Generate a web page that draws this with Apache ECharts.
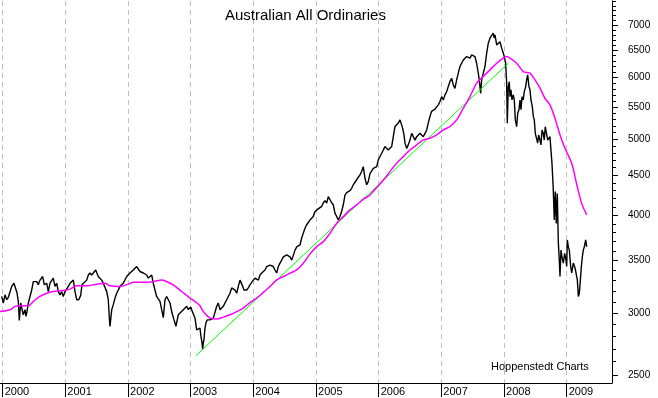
<!DOCTYPE html>
<html><head><meta charset="utf-8">
<script src="https://cdn.jsdelivr.net/npm/echarts@6/dist/echarts.min.js"></script>
<style>html,body{margin:0;padding:0;background:#fff}#c{width:658px;height:398px}</style>
</head><body><div id="c"></div>
<script>
const yearTicks = [2000, 2001, 2002, 2003, 2004, 2005, 2006, 2007, 2008, 2009];
const yTickLabels = [2500, 3000, 3500, 4000, 4500, 5000, 5500, 6000, 6500, 7000];

const priceYears = [
1999.984,2000.010,2000.037,2000.064,2000.089,2000.116,2000.144,2000.180,2000.207,2000.228,2000.249,2000.265,2000.287,2000.303,2000.329,2000.356,2000.372,2000.388,2000.409,2000.436,2000.463,2000.488,2000.515,2000.543,2000.568,2000.595,2000.638,2000.654,2000.664,2000.680,2000.702,2000.728,2000.755,2000.807,2000.835,2000.862,2000.887,2000.914,2000.941,2000.967,2000.994,
2001.021,2001.047,2001.074,2001.101,2001.127,2001.154,2001.181,2001.213,2001.245,2001.265,2001.286,2001.340,2001.366,2001.393,2001.420,2001.446,2001.484,2001.525,2001.580,2001.605,2001.632,2001.660,2001.685,2001.701,2001.712,2001.740,2001.765,2001.792,2001.819,2001.845,2001.872,2001.924,2001.979,
2002.031,2002.084,2002.138,2002.163,2002.191,2002.244,2002.298,2002.323,2002.378,2002.403,2002.430,2002.457,2002.510,2002.563,2002.590,2002.617,2002.643,2002.670,2002.702,2002.734,2002.765,2002.802,2002.829,2002.882,2002.936,2002.962,
2003.000,2003.016,2003.041,2003.069,2003.096,2003.121,2003.148,2003.164,2003.180,2003.191,2003.201,2003.212,2003.228,2003.244,2003.265,2003.281,2003.308,2003.335,2003.361,2003.388,2003.415,2003.440,2003.467,2003.494,2003.520,2003.547,2003.574,2003.600,2003.627,2003.654,2003.680,2003.707,2003.734,2003.760,2003.787,2003.814,2003.830,2003.850,2003.871,2003.894,2003.919,2003.946,2003.973,2003.999,
2004.026,2004.053,2004.079,2004.106,2004.133,2004.159,2004.186,2004.213,2004.238,2004.265,2004.292,2004.318,2004.345,2004.372,2004.398,2004.425,2004.452,2004.478,2004.505,2004.532,2004.558,2004.585,2004.612,2004.638,2004.665,2004.692,2004.717,2004.744,2004.771,2004.797,2004.824,2004.851,2004.877,2004.904,2004.931,2004.956,2004.983,
2005.010,2005.036,2005.063,2005.090,2005.116,2005.143,2005.170,2005.196,2005.223,2005.250,2005.275,2005.302,2005.330,2005.355,2005.382,2005.409,2005.435,2005.462,2005.489,2005.515,2005.542,2005.569,2005.594,2005.621,2005.648,2005.674,2005.701,2005.728,2005.754,2005.781,2005.808,2005.834,2005.861,2005.914,2005.941,2005.968,2005.993,
2006.021,2006.048,2006.073,2006.100,2006.127,2006.153,2006.180,2006.207,2006.233,2006.260,2006.287,2006.313,2006.340,2006.351,2006.367,2006.383,2006.404,2006.420,2006.447,2006.472,2006.499,2006.526,2006.552,2006.579,2006.606,2006.632,2006.659,2006.686,2006.712,2006.739,2006.766,2006.791,2006.818,2006.845,2006.871,2006.898,2006.925,2006.951,2006.978,
2007.005,2007.031,2007.058,2007.085,2007.110,2007.137,2007.164,2007.190,2007.217,2007.244,2007.270,2007.297,2007.324,2007.350,2007.377,2007.404,2007.430,2007.457,2007.484,2007.509,2007.536,2007.563,2007.589,2007.605,2007.627,2007.643,2007.669,2007.696,2007.723,2007.749,2007.776,2007.803,2007.828,2007.844,2007.856,2007.883,2007.908,2007.935,2007.962,2007.988,
2008.004,2008.026,2008.042,2008.052,2008.068,2008.084,2008.095,2008.111,2008.127,2008.148,2008.164,2008.180,2008.202,2008.218,2008.239,2008.255,2008.271,2008.287,2008.307,2008.323,2008.346,2008.361,2008.377,2008.398,2008.414,2008.430,2008.451,2008.467,2008.483,2008.499,2008.521,2008.537,2008.553,2008.574,2008.590,2008.606,2008.626,2008.642,2008.658,2008.681,2008.697,2008.712,2008.733,2008.749,2008.765,2008.776,2008.786,2008.802,2008.818,2008.834,2008.850,2008.866,2008.882,2008.893,2008.909,2008.925,2008.946,2008.968,2008.989,
2009.000,2009.010,2009.026,2009.042,2009.064,2009.080,2009.106,2009.133,2009.149,2009.170,2009.186,2009.202,2009.218,2009.234,2009.250,2009.265,2009.281,2009.303,2009.319
];
const priceValues = [
3150,3090,3165,3120,3140,3150,3245,3275,3260,3185,3105,2935,3090,3075,2985,3030,2970,3015,3090,3150,3210,3290,3275,3290,3260,3305,3340,3345,3260,3245,3275,3195,3275,3325,3245,3275,3195,3165,3195,3150,3195,
3185,3245,3275,3290,3305,3195,3120,3120,3160,3260,3275,3305,3355,3375,3355,3375,3405,3340,3305,3275,3275,3195,3120,2965,2885,3030,3075,3135,3180,3210,3245,3275,3340,
3375,3405,3440,3425,3390,3375,3355,3325,3355,3275,3210,3150,3105,2960,3120,3150,3120,3090,3000,2940,2885,2985,2970,3030,3060,3030,
3055,3030,3045,2955,2855,2845,2870,2800,2750,2695,2750,2775,2870,2915,2940,2955,2940,2955,2955,2940,3060,3090,3030,3015,3060,3090,3120,3150,3180,3230,3245,3210,3180,3245,3305,3290,3245,3210,3195,3210,3230,3260,3275,3305,
3325,3340,3305,3355,3375,3390,3405,3440,3445,3455,3475,3440,3405,3375,3440,3475,3505,3540,3525,3560,3560,3540,3505,3525,3610,3645,3665,3665,3740,3795,3850,3890,3915,3945,3965,3985,4045,
4065,4075,4090,4105,4150,4175,4145,4225,4235,4150,4125,4025,3985,3945,3985,4045,4125,4245,4275,4265,4300,4330,4375,4395,4440,4440,4505,4550,4615,4460,4375,4415,4520,4590,4570,4615,4705,
4755,4800,4825,4895,4870,4845,4870,4895,5040,5195,5215,5245,5295,5320,5295,5165,5065,4945,4870,4920,4990,5090,5040,4990,5040,5065,5090,5065,5040,5090,5140,5245,5350,5430,5455,5465,5495,5535,5590,
5670,5615,5700,5755,5840,5925,5985,5870,5810,5955,6075,6195,6225,6315,6350,6380,6410,6350,6410,6445,6380,6255,6075,5955,5725,5955,6075,6195,6445,6635,6735,6770,6835,6735,6800,6600,6570,6665,6540,6445,
6380,6255,5900,5245,5840,5925,5670,5785,5615,5700,5615,5295,5190,5400,5455,5615,5455,5670,5615,5755,5840,5955,6045,5840,5785,5615,5505,5350,5295,5090,5065,4945,5065,4990,4920,5140,5090,4990,5190,5165,4990,4970,5040,4845,4660,4480,4310,3945,4290,3905,4265,3700,3505,3340,3610,3540,3475,3575,3505,
3440,3720,3645,3610,3440,3375,3475,3425,3375,3305,3150,3180,3305,3440,3540,3610,3645,3720,3645
];

const maYears = [
1999.957,2000.116,2000.196,2000.276,2000.409,2000.488,2000.595,2000.702,2000.807,2000.967,2001.074,2001.181,2001.340,2001.500,2001.632,2001.712,2001.872,2002.004,2002.084,2002.244,2002.403,2002.537,2002.617,2002.722,2002.856,2002.989,2003.069,2003.148,
2003.201,2003.308,2003.415,2003.520,2003.627,2003.734,2003.839,2003.946,2004.053,2004.159,2004.265,2004.372,2004.478,2004.585,2004.692,2004.797,2004.904,2005.010,2005.116,2005.223,2005.330,2005.435,2005.542,2005.648,2005.754,2005.861,
2006.100,2006.180,2006.287,2006.393,2006.499,2006.606,2006.712,2006.818,2006.925,2007.031,2007.137,2007.244,2007.350,2007.457,2007.563,2007.669,2007.776,2007.883,2007.988,2008.042,
2008.095,2008.202,2008.307,2008.414,2008.494,2008.574,2008.653,2008.733,2008.813,2008.893,2008.973,2009.080,2009.159,2009.239,2009.319
];
const maValues = [
3013,3029,3059,3065,3065,3103,3150,3180,3196,3205,3219,3250,3250,3266,3275,3250,3243,3266,3285,3285,3290,3307,3290,3259,3196,3135,3103,3065,
3013,2956,2947,2964,2985,3013,3044,3094,3135,3188,3243,3307,3340,3373,3406,3473,3570,3647,3701,3793,3907,3984,4063,4123,4193,4246,
4460,4548,4660,4753,4847,4919,4992,5017,5066,5141,5193,5295,5480,5671,5899,6017,6134,6255,6350,6380,
6350,6255,6104,6074,5956,5812,5643,5533,5321,5066,4872,4660,4384,4142,4004
];

const trendYears = [2003.085, 2008.068];
const trendValues = [2647, 6254];

const minorTicks = [];
for (let v = 2500; v <= 7500; v += 100) if (v % 500 !== 0 || v === 7500) minorTicks.push(v);

const L = Math.log10;
const F = "'Liberation Sans', Arial, sans-serif";
const FN = "'Liberation Sans Narrow', 'Liberation Sans', Arial, sans-serif";
const yMin = L(2442), yMax = L(7512);
const pair = (xs, vs) => xs.map((x, i) => [x, L(vs[i])]);

const chart = echarts.init(document.getElementById('c'), null, {renderer: 'canvas'});
chart.setOption({
  animation: false,
  backgroundColor: '#fff',
  title: [
    {text: 'Australian All Ordinaries', left: 225, top: 8, padding: 0,
     textStyle: {fontSize: 15, fontWeight: 'normal', color: '#000', fontFamily: F}},
    {text: 'Hoppenstedt Charts', left: 491, top: 361, padding: 0,
     textStyle: {fontSize: 11, fontWeight: 'normal', color: '#000', fontFamily: F}}
  ],
  grid: {left: 0, right: 46, top: 1, bottom: 15, containLabel: false},
  xAxis: {
    type: 'value', min: 1999.957, max: 2009.723,
    axisLine: {show: true, onZero: false, lineStyle: {color: '#000', width: 1}},
    axisTick: {show: true, customValues: yearTicks, length: 14, lineStyle: {color: '#000', width: 1}},
    axisLabel: {customValues: yearTicks, formatter: v => String(Math.round(v)), align: 'left',
                margin: 3, padding: [0, 0, 0, 2], fontSize: 11, color: '#000', fontFamily: F},
    splitLine: {show: true, lineStyle: {color: '#c0c0c0', type: [5, 4], width: 1}}
  },
  yAxis: [
    {type: 'value', position: 'right', min: yMin, max: yMax,
     axisLine: {show: true, lineStyle: {color: '#000', width: 1}},
     axisTick: {show: true, customValues: yTickLabels.map(L), length: 6, lineStyle: {color: '#000'}},
     axisLabel: {customValues: yTickLabels.map(L), formatter: v => String(Math.round(Math.pow(10, v))),
                 margin: 16, fontSize: 10, color: '#000', fontFamily: FN},
     splitLine: {show: false}},
    {type: 'value', position: 'right', min: yMin, max: yMax,
     axisLine: {show: false},
     axisTick: {show: true, customValues: minorTicks.map(L), length: 4, lineStyle: {color: '#000'}},
     axisLabel: {show: false},
     splitLine: {show: false}}
  ],
  series: [
    {type: 'line', name: 'All Ordinaries', data: pair(priceYears, priceValues), showSymbol: false,
     lineStyle: {color: '#000', width: 1.4}, z: 2},
    {type: 'line', name: 'Trend', data: pair(trendYears, trendValues), showSymbol: false,
     lineStyle: {color: '#00ff00', width: 1}, z: 3},
    {type: 'line', name: 'Moving average', data: pair(maYears, maValues), showSymbol: false, smooth: 0.3,
     lineStyle: {color: '#ff00ff', width: 1.5}, z: 4}
  ]
});
</script></body></html>
